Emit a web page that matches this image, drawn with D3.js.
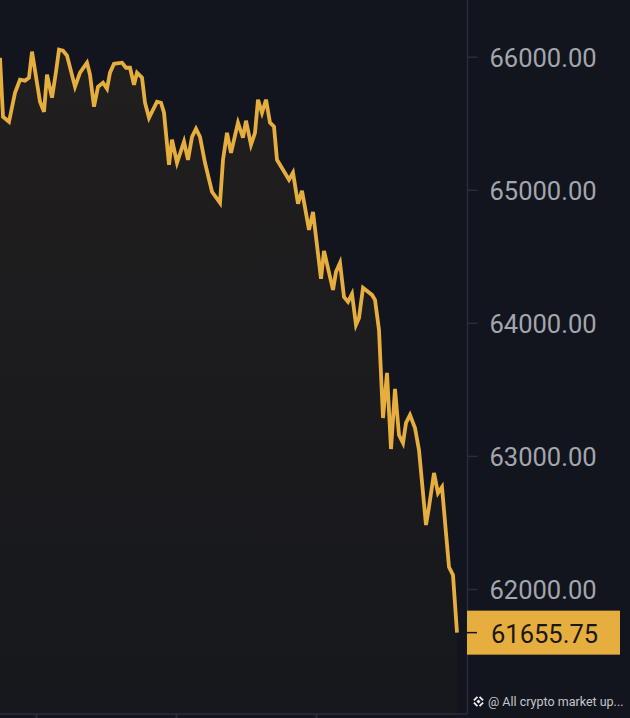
<!DOCTYPE html>
<html><head><meta charset="utf-8">
<script src="https://cdnjs.cloudflare.com/ajax/libs/d3/7.8.5/d3.min.js"></script>
<style>
html,body{margin:0;padding:0;background:#12151d;overflow:hidden}
svg{display:block}
text{font-family:"Roboto",sans-serif}
</style></head><body>
<svg id="c" width="630" height="718"></svg>
<script>
const minutes=[0,3,9,15,20,25,29,32,40,44,47,52,56,59,63,67,75,80,87,90,94,98,103,107,110,114,122,126,130,134,137,142,145,149,157,161,164,169,172,177,184,188,192,196,200,205,212,220,223,227,231,238,243,246,251,255,258,262,266,270,274,277,283,289,293,298,302,309,313,321,324,333,336,340,344,348,352,356,359,363,372,375,379,383,387,391,395,399,403,406,410,415,419,426,429,434,438,442,446,449,453,457];
const prices=[65992,65549,65511,65729,65827,65820,65842,66038,65662,65586,65865,65692,65887,66053,66045,66008,65774,65880,65955,65865,65624,65774,65804,65759,65880,65947,65955,65917,65917,65789,65880,65842,65654,65541,65662,65654,65579,65188,65376,65203,65361,65225,65398,65459,65398,65203,64985,64902,65225,65428,65278,65504,65391,65519,65338,65428,65677,65579,65677,65504,65474,65225,65150,65075,65128,64895,64992,64699,64834,64331,64541,64248,64383,64451,64195,64158,64218,63985,64037,64263,64210,64173,63947,63285,63624,63052,63503,63157,63097,63248,63308,63210,63044,62481,62616,62872,62721,62766,62420,62165,62105,61672];
const priceTicks=[66000,65000,64000,63000,62000];
const lastLabel="61655.75";
const timeTicks=[36,176,316];
const note="@ All crypto market up...";

const svg=d3.select("#c");
const x=d3.scaleLinear().domain([0,467]).range([0,467]);
const y=d3.scaleLinear().domain([62000,66000]).range([589,56.7]);
const bottom=713.5, axisX=467.5;
const data=minutes.map((m,i)=>({m,p:prices[i]}));

const defs=svg.append("defs");
const g=defs.append("linearGradient").attr("id","fill").attr("x1",0).attr("x2",0).attr("y1",0).attr("y2",1);
g.append("stop").attr("offset",0).attr("stop-color","#211e1e");
g.append("stop").attr("offset",1).attr("stop-color","#16181d");

svg.append("path").datum(data).attr("fill","url(#fill)")
  .attr("d",d3.area().x(d=>x(d.m)).y0(bottom).y1(d=>y(d.p)));
svg.append("path").datum(data).attr("fill","none").attr("stroke","#e6ae3e").attr("stroke-width",3.8)
  .attr("stroke-linejoin","miter").attr("d",d3.line().x(d=>x(d.m)).y(d=>y(d.p)));

const ay=svg.append("g").attr("transform",`translate(${axisX},0)`)
  .call(d3.axisRight(y).tickValues(priceTicks).tickFormat(d3.format(".2f")).tickSize(10).tickPadding(12));
ay.select(".domain").attr("stroke","#2a2e3b").attr("stroke-width",1.5).attr("d","M0,0V714");
ay.selectAll(".tick line").attr("stroke","#2a2e3b").attr("stroke-width",1.5);
ay.selectAll(".tick text").attr("fill","#a3a6ad").attr("font-size",25.5).attr("font-family","Roboto").attr("dy","0.39em");

const ax=svg.append("g").attr("transform",`translate(0,714)`)
  .call(d3.axisTop(x).tickValues(timeTicks).tickFormat("").tickSize(2));
ax.select(".domain").attr("stroke","#2a2e3b").attr("stroke-width",1.5).attr("d","M0,0H467");
ax.selectAll(".tick line").attr("stroke","#2a2e3b").attr("stroke-width",2).attr("y2",4);

const ly=y(prices[prices.length-1]);
svg.append("rect").attr("x",467).attr("y",ly-22).attr("width",153).attr("height",44).attr("fill","#e6ae3e");
svg.append("line").attr("x1",467).attr("x2",477).attr("y1",ly).attr("y2",ly).attr("stroke","#14161c").attr("stroke-width",1.5);
svg.append("text").attr("x",491).attr("y",ly).attr("dy","0.39em").attr("font-size",25.5).attr("fill","#1a1814").text(lastLabel);

const icon=svg.append("g").attr("transform","translate(478.5,701.5)");
icon.append("rect").attr("x",-4).attr("y",-4).attr("width",8).attr("height",8)
  .attr("transform","rotate(45)").attr("fill","none").attr("stroke","#f0f0f0").attr("stroke-width",1.8).attr("stroke-dasharray","5 3").attr("stroke-dashoffset","-1.5");
icon.append("rect").attr("x",-1.4).attr("y",-1.4).attr("width",2.8).attr("height",2.8)
  .attr("transform","rotate(45)").attr("fill","#f0f0f0");
svg.append("text").attr("x",488).attr("y",706).attr("font-size",12.5).attr("font-family","Noto Sans").attr("fill","#c4c6cb").text(note);
</script>
</body></html>
